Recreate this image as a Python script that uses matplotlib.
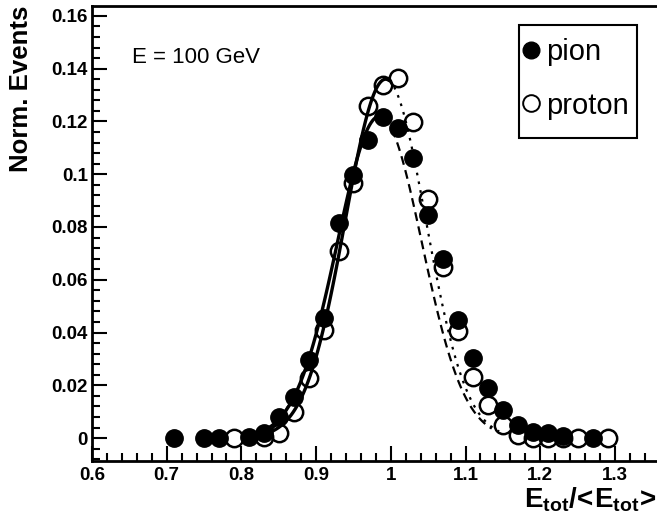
import numpy as np
import matplotlib.pyplot as plt
from matplotlib.ticker import MultipleLocator
from matplotlib.lines import Line2D
from matplotlib.patches import Rectangle

plt.rcParams['font.family'] = ['Liberation Sans', 'DejaVu Sans']
plt.rcParams['mathtext.fontset'] = 'custom'
plt.rcParams['mathtext.rm'] = 'Liberation Sans'
plt.rcParams['mathtext.bf'] = 'Liberation Sans:bold'

# bin centres and normalised counts
pion_x = [0.71, 0.75, 0.77, 0.81, 0.83, 0.85, 0.87, 0.89, 0.91, 0.93, 0.95, 0.97,
          0.99, 1.01, 1.03, 1.05, 1.07, 1.09, 1.11, 1.13, 1.15, 1.17, 1.19, 1.21,
          1.23, 1.27]
pion_y = [0.0, 0.0, 0.0, 0.0003, 0.002, 0.008, 0.0155, 0.0295, 0.0455, 0.0814,
          0.0996, 0.1129, 0.1216, 0.1174, 0.106, 0.0845, 0.068, 0.0447, 0.0303,
          0.0189, 0.0106, 0.0049, 0.0023, 0.0019, 0.0008, 0.0]

proton_x = [0.79, 0.83, 0.85, 0.87, 0.89, 0.91, 0.93, 0.95, 0.97, 0.99, 1.01, 1.03,
            1.05, 1.07, 1.09, 1.11, 1.13, 1.15, 1.17, 1.19, 1.21, 1.23, 1.25, 1.29]
proton_y = [0.0, 0.0005, 0.002, 0.010, 0.0227, 0.041, 0.071, 0.0966, 0.1258, 0.1337,
            0.1364, 0.1197, 0.0907, 0.0648, 0.0405, 0.0231, 0.0125, 0.0049, 0.0011,
            0.0, 0.0, 0.0, 0.0, 0.0]

# gaussian fits: amplitude, mean, sigma; fit range and extrapolation end
pion_fit = (0.122, 0.985, 0.0566)
pion_fit_range = (0.83, 0.99, 1.135)
proton_fit = (0.136, 0.993, 0.054)
proton_fit_range = (0.83, 0.997, 1.145)


def gauss(x, p):
    a, m, s = p
    return a * np.exp(-0.5 * ((x - m) / s) ** 2)


fig = plt.figure(figsize=(6.57, 5.27), dpi=100)
ax = fig.add_axes([0.140, 0.125, 0.862, 0.864])

ax.plot(proton_x, proton_y, 'o', ms=12.5, mfc='none', mec='black', mew=1.8, zorder=3)
ax.plot(pion_x, pion_y, 'o', ms=12.5, mfc='black', mec='black', zorder=4)

for p, (lo, mid, hi), style in [(pion_fit, pion_fit_range, (0, (4, 2.5))),
                                (proton_fit, proton_fit_range, (0, (1.2, 2.8)))]:
    xs = np.linspace(lo, mid, 100)
    ax.plot(xs, gauss(xs, p), color='black', lw=2.4, zorder=5)
    xs = np.linspace(mid, hi, 100)
    ax.plot(xs, gauss(xs, p), color='black', lw=1.6, ls=style, zorder=5)

ax.set_xlim(0.6, 1.358)
ax.set_ylim(-0.0087, 0.1638)
ax.xaxis.set_minor_locator(MultipleLocator(0.02))
ax.yaxis.set_minor_locator(MultipleLocator(0.004))
ax.set_xticks([0.6, 0.7, 0.8, 0.9, 1.0, 1.1, 1.2, 1.3],
              labels=['0.6', '0.7', '0.8', '0.9', '1', '1.1', '1.2', '1.3'])
ax.set_yticks([0, 0.02, 0.04, 0.06, 0.08, 0.1, 0.12, 0.14, 0.16],
              labels=['0', '0.02', '0.04', '0.06', '0.08', '0.1', '0.12', '0.14', '0.16'])
ax.tick_params(which='both', direction='in', width=1.5, top=False, right=False,
               labelsize=13.5)
ax.tick_params(which='major', length=11)
ax.tick_params(which='minor', length=6)
for lab in ax.get_xticklabels() + ax.get_yticklabels():
    lab.set_fontweight('bold')
ax.tick_params(axis='x', pad=4)
ax.tick_params(axis='y', pad=3)
for s in ax.spines.values():
    s.set_linewidth(2)
ax.spines['right'].set_visible(False)

ax.text(0.071, 0.887, 'E = 100 GeV', transform=ax.transAxes, fontsize=16,
        va='center', ha='left')

fig.text(21 / 657, 1 - 6 / 527, 'Norm. Events', rotation=90, ha='center', va='top',
         fontsize=18.5, fontweight='bold')
fig.text(656 / 657, 1 - 507 / 527, r'$\mathbf{E_{tot}/\!<\!E_{tot}\!>}$',
         ha='right', va='baseline', fontsize=20)

handles = [Line2D([], [], ls='none', marker='o', ms=12, mfc='black', mec='black'),
           Line2D([], [], ls='none', marker='o', ms=12, mfc='none', mec='black', mew=1.4)]
leg = ax.legend(handles, ['pion', 'proton'], loc='upper left',
                bbox_to_anchor=(524 / 657, 1 - 38 / 527),
                bbox_transform=fig.transFigure, fontsize=21, frameon=False,
                handlelength=0.5, handletextpad=0.25, borderpad=0,
                labelspacing=0.88, borderaxespad=0)
fig.patches.append(Rectangle((519 / 657, 1 - 138 / 527), 118 / 657, 113 / 527,
                             transform=fig.transFigure, fill=False,
                             edgecolor='black', lw=1.5))

fig.savefig('out.png', dpi=100)
